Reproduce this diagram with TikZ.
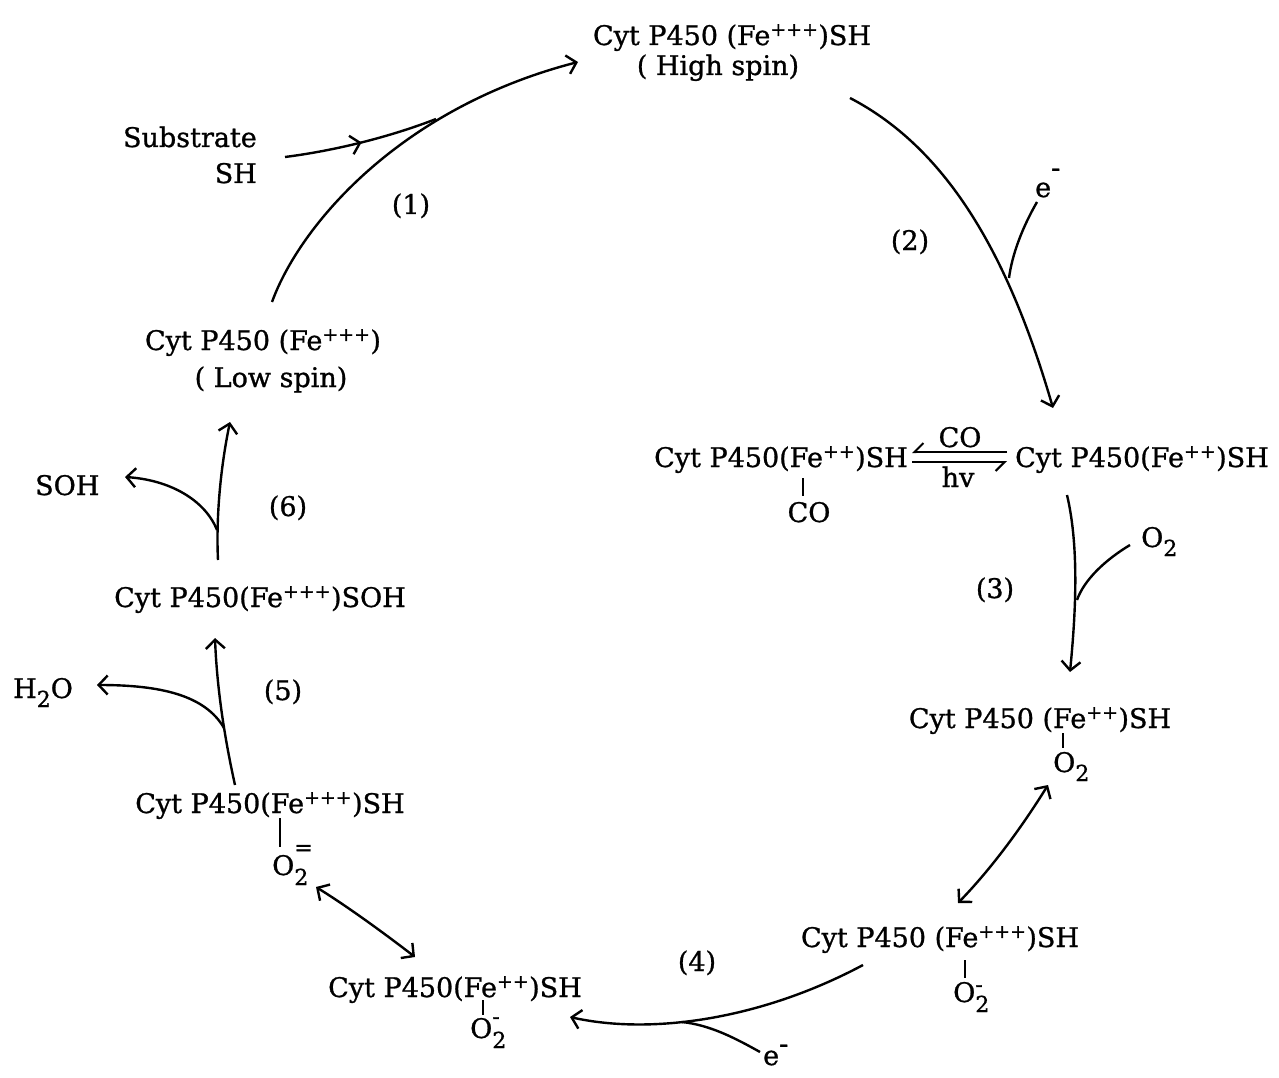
\documentclass[tikz,border=0pt]{standalone}
\usepackage{fontspec}
\setmainfont{DejaVu Serif}[FakeBold=1]
\usetikzlibrary{arrows.meta,decorations.markings}
\newcommand\sbs[1]{\raisebox{-9pt}{\fontsize{22}{24}\selectfont #1}}
\newcommand\chgsb[3]{\rlap{\raisebox{#3}{\fontsize{22}{24}\selectfont #1}}\raisebox{-10pt}{\fontsize{22}{24}\selectfont #2}}
\begin{document}
\begin{tikzpicture}[x=1pt,y=-1pt,
  txt/.style={inner sep=0pt, anchor=base, font=\fontsize{27}{32}\selectfont},
  ln/.style={line width=2.4pt},
  arr/.style={line width=2.4pt, -{Straight Barb[length=9pt,width=19pt]}},
  dbl/.style={line width=2.4pt, {Straight Barb[length=9pt,width=19pt]}-{Straight Barb[length=9pt,width=19pt]}},
  bond/.style={line width=1.8pt},
  harp/.style={line width=2pt, -{Straight Barb[harpoon,swap,length=9pt,width=18pt]}},
  midarr/.style={decoration={markings, mark=at position 0.5 with {\arrow{Straight Barb[length=9pt,width=19pt]}}}, postaction={decorate}},
]
\useasboundingbox (0,0) rectangle (1279,1078);

% ---- nodes ----
\node[txt] (hsA) at (732,45) {Cyt P450 (Fe\textsuperscript{+++})SH};
\node[txt] (hsB) at (718,75) {( High spin)};
\node[txt,anchor=base east] (subA) at (257,147) {Substrate};
\node[txt,anchor=base east] (subB) at (257,183) {SH};
\node[txt] (n1) at (411,214) {(1)};
\node[txt] (n2) at (910,250) {(2)};
\node[txt,anchor=base west] (e1) at (1035,197) {e\raisebox{20pt}{-}};

\node[txt,anchor=base west] (coL) at (654,467) {Cyt P450(Fe\textsuperscript{++})SH};
\node[txt] (coB) at (809,522) {CO};
\node[txt] (coT) at (960,447) {CO};
\node[txt] (hv) at (958,487) {hv};
\node[txt,anchor=base west] (coR) at (1015,467) {Cyt P450(Fe\textsuperscript{++})SH};

\node[txt,anchor=base west] (o2a) at (1141,547) {O\sbs{2}};
\node[txt] (n3) at (995,598) {(3)};

\node[txt] (oxA) at (1040,728) {Cyt P450 (Fe\textsuperscript{++})SH};
\node[txt,anchor=base west] (oxAO) at (1053,772) {O\sbs{2}};

\node[txt] (oxB) at (940,947) {Cyt P450 (Fe\textsuperscript{+++})SH};
\node[txt,anchor=base west] (oxBO) at (953,1002) {O\chgsb{-}{2}{10pt}};

\node[txt] (n4) at (697,971) {(4)};
\node[txt,anchor=base west] (e2) at (763,1065) {e\raisebox{12pt}{-}};

\node[txt] (oxC) at (455,997) {Cyt P450(Fe\textsuperscript{++})SH};
\node[txt,anchor=base west] (oxCO) at (470,1038) {O\chgsb{-}{2}{14pt}};

\node[txt] (oxD) at (270,813) {Cyt P450(Fe\textsuperscript{+++})SH};
\node[txt,anchor=base west] (oxDO) at (272,875) {O\chgsb{=}{2}{20pt}};

\node[txt,anchor=base west] (h2o) at (13,698) {H\sbs{2}O};
\node[txt] (n5) at (283,700) {(5)};
\node[txt] (soh) at (260,607) {Cyt P450(Fe\textsuperscript{+++})SOH};

\node[txt,anchor=base west] (sohP) at (35,495) {SOH};
\node[txt] (n6) at (288,516) {(6)};
\node[txt] (lsA) at (263,350) {Cyt P450 (Fe\textsuperscript{+++})};
\node[txt] (lsB) at (271,387) {( Low spin)};

% ---- connector end points ----
\coordinate (s1a) at (272,302);
\coordinate (s1b) at (578,62);
\coordinate (sba) at (285,157);
\coordinate (sbb) at (436,119);
\coordinate (s2a) at (850,98);
\coordinate (s2b) at (1053,408);
\coordinate (e1a) at (1037,202);
\coordinate (e1b) at (1009,278);
\coordinate (s3a) at (1067,495);
\coordinate (s3b) at (1070,672);
\coordinate (o3a) at (1130,545);
\coordinate (o3b) at (1077,600);
\coordinate (d1a) at (1048,785);
\coordinate (d1b) at (958,903);
\coordinate (s4a) at (863,965);
\coordinate (s4b) at (570,1017);
\coordinate (e2a) at (760,1052);
\coordinate (e2b) at (682,1022);
\coordinate (d2a) at (415,957);
\coordinate (d2b) at (316,887);
\coordinate (s5a) at (235,785);
\coordinate (s5b) at (215,638);
\coordinate (h5a) at (224,728);
\coordinate (h5b) at (97,685);
\coordinate (s6a) at (218,560);
\coordinate (s6b) at (230,422);
\coordinate (h6a) at (217,530);
\coordinate (h6b) at (125,477);

% ---- connectors ----
\draw[arr] (s1a) .. controls (300,225) and (400,108) .. (s1b);
\draw[ln,midarr] (sba) .. controls (340,150) and (395,135) .. (sbb);

\draw[arr] (s2a) .. controls (950,150) and (1010,260) .. (s2b);
\draw[ln] (e1a) .. controls (1022,228) and (1012,255) .. (e1b);

\draw[harp] (1007,452) -- (912,452);
\draw[harp] (912,462) -- (1007,462);
\draw[bond] (803,478) -- (803,496);

\draw[arr] (s3a) .. controls (1080,550) and (1075,620) .. (s3b);
\draw[ln] (o3a) .. controls (1105,560) and (1084,580) .. (o3b);

\draw[bond] (1063,733) -- (1063,748);
\draw[dbl] (d1a) .. controls (1020,830) and (990,870) .. (d1b);
\draw[bond] (965,960) -- (965,978);

\draw[arr] (s4a) .. controls (760,1020) and (650,1035) .. (s4b);
\draw[ln] (e2a) .. controls (735,1038) and (710,1025) .. (e2b);

\draw[bond] (483,1000) -- (483,1015);
\draw[dbl] (d2a) .. controls (380,930) and (345,905) .. (d2b);
\draw[bond] (280,818) -- (280,847);

\draw[arr] (s5a) .. controls (225,740) and (217,690) .. (s5b);
\draw[arr] (h5a) .. controls (205,695) and (160,685) .. (h5b);

\draw[arr] (s6a) .. controls (216,520) and (220,470) .. (s6b);
\draw[arr] (h6a) .. controls (205,500) and (170,480) .. (h6b);
\end{tikzpicture}
\end{document}
